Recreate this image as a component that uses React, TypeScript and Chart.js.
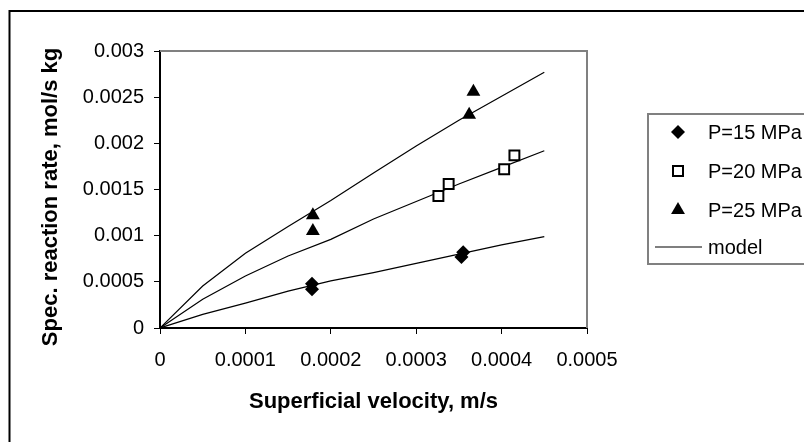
import React, { useEffect, useRef } from "react";
import { Chart, registerables } from "chart.js";

Chart.register(...registerables);

const xTickLabels = ["0", "0.0001", "0.0002", "0.0003", "0.0004", "0.0005"];
const yTickLabels = ["0", "0.0005", "0.001", "0.0015", "0.002", "0.0025", "0.003"];

const p15X = [0.000178, 0.000178, 0.000353, 0.000355];
const p15Y = [0.00042, 0.00048, 0.00077, 0.00082];
const p20X = [0.000326, 0.000338, 0.000403, 0.000415];
const p20Y = [0.00143, 0.00156, 0.00172, 0.00187];
const p25X = [0.000179, 0.000179, 0.000362, 0.000367];
const p25Y = [0.00105, 0.00122, 0.00231, 0.00256];

const modelX = [0, 0.00005, 0.0001, 0.00015, 0.0002, 0.00025, 0.0003, 0.00035, 0.0004, 0.00045];
const model15 = [0, 0.000148, 0.00027, 0.0004, 0.00051, 0.0006, 0.0007, 0.0008, 0.0009, 0.00099];
const model20 = [0, 0.000311, 0.000563, 0.00078, 0.00096, 0.00118, 0.00137, 0.00156, 0.00174, 0.00192];
const model25 = [0, 0.000455, 0.00081, 0.0011, 0.00138, 0.00168, 0.00197, 0.00225, 0.00251, 0.00277];

const legendLabels = ["P=15 MPa", "P=20 MPa", "P=25 MPa", "model"];
const xTitle = "Superficial velocity, m/s";
const yTitle = "Spec. reaction rate, mol/s kg";

const FONT = "'Liberation Sans', Arial, sans-serif";

const zip = (xs: number[], ys: number[]) => xs.map((x, i) => ({ x, y: ys[i] }));

function drawMarker(ctx: CanvasRenderingContext2D, kind: string, x: number, y: number) {
  ctx.save();
  ctx.beginPath();
  if (kind === "diamond") {
    const r = 7;
    ctx.moveTo(x, y - r);
    ctx.lineTo(x + r, y);
    ctx.lineTo(x, y + r);
    ctx.lineTo(x - r, y);
    ctx.closePath();
    ctx.fillStyle = "#000";
    ctx.fill();
  } else if (kind === "square") {
    const s = 5;
    ctx.rect(x - s, y - s, 2 * s, 2 * s);
    ctx.fillStyle = "#fff";
    ctx.fill();
    ctx.lineWidth = 2;
    ctx.strokeStyle = "#000";
    ctx.stroke();
  } else if (kind === "triangle") {
    const r = 8;
    ctx.moveTo(x, y - r);
    ctx.lineTo(x + r * 0.866, y + r * 0.5);
    ctx.lineTo(x - r * 0.866, y + r * 0.5);
    ctx.closePath();
    ctx.fillStyle = "#000";
    ctx.fill();
  }
  ctx.restore();
}

const decorPlugin = {
  id: "decor",
  afterDraw(chart: any) {
    const ctx: CanvasRenderingContext2D = chart.ctx;
    const a = chart.chartArea;
    ctx.save();
    // outer chart border
    ctx.strokeStyle = "#000";
    ctx.lineWidth = 2;
    ctx.strokeRect(9.5, 11, 810, 450);
    // plot area top/right border
    ctx.strokeStyle = "#808080";
    ctx.lineWidth = 2;
    ctx.beginPath();
    ctx.moveTo(a.left, a.top);
    ctx.lineTo(a.right, a.top);
    ctx.lineTo(a.right, a.bottom);
    ctx.stroke();
    // axis titles
    ctx.fillStyle = "#000";
    ctx.font = `bold 22px ${FONT}`;
    ctx.textAlign = "center";
    ctx.textBaseline = "middle";
    ctx.fillText(xTitle, (a.left + a.right) / 2, 402);
    ctx.save();
    ctx.translate(51, 197);
    ctx.rotate(-Math.PI / 2);
    ctx.fillText(yTitle, 0, 0);
    ctx.restore();
    // legend
    const lx = 648, ly = 114, lw = 200, lh = 150;
    ctx.strokeStyle = "#808080";
    ctx.lineWidth = 2;
    ctx.strokeRect(lx, ly, lw, lh);
    const rows = [132, 171, 210, 247];
    const kinds = ["diamond", "square", "triangle", "line"];
    ctx.font = `20px ${FONT}`;
    ctx.textAlign = "left";
    ctx.textBaseline = "middle";
    rows.forEach((ry, i) => {
      if (kinds[i] === "line") {
        ctx.strokeStyle = "#000";
        ctx.lineWidth = 1.2;
        ctx.beginPath();
        ctx.moveTo(655, ry);
        ctx.lineTo(702, ry);
        ctx.stroke();
      } else {
        drawMarker(ctx, kinds[i], 678, ry);
      }
      ctx.fillStyle = "#000";
      ctx.fillText(legendLabels[i], 708, ry + 1);
    });
    ctx.restore();
  },
};

export default function App() {
  const ref = useRef<HTMLCanvasElement | null>(null);
  useEffect(() => {
    if (!ref.current) return;
    const lineDs = (ys: number[]) => ({
      type: "line" as const,
      data: zip(modelX, ys),
      borderColor: "#000",
      borderWidth: 1.2,
      pointRadius: 0,
      showLine: true,
      tension: 0,
      fill: false,
    });
    const chart = new Chart(ref.current, {
      type: "scatter",
      data: {
        datasets: [
          {
            label: legendLabels[0],
            data: zip(p15X, p15Y),
            pointStyle: "rectRot",
            pointRadius: 7,
            backgroundColor: "#000",
            borderColor: "#000",
            borderWidth: 0,
          },
          {
            label: legendLabels[1],
            data: zip(p20X, p20Y),
            pointStyle: "rect",
            pointRadius: 7,
            backgroundColor: "#fff",
            borderColor: "#000",
            borderWidth: 2,
          },
          {
            label: legendLabels[2],
            data: zip(p25X, p25Y),
            pointStyle: "triangle",
            pointRadius: 8,
            backgroundColor: "#000",
            borderColor: "#000",
            borderWidth: 0,
          },
          { label: legendLabels[3], ...lineDs(model15) } as any,
          { label: legendLabels[3] + "20", ...lineDs(model20) } as any,
          { label: legendLabels[3] + "25", ...lineDs(model25) } as any,
        ],
      },
      options: {
        responsive: false,
        devicePixelRatio: 1,
        animation: false,
        layout: { padding: { left: 0, top: 51, right: 217, bottom: 0 } },
        plugins: { legend: { display: false }, tooltip: { enabled: false } },
        scales: {
          x: {
            type: "linear",
            min: 0,
            max: 0.0005,
            afterFit: (s: any) => {
              s.height = 114;
            },
            ticks: {
              stepSize: 0.0001,
              padding: 14,
              color: "#000",
              font: { family: FONT, size: 20 },
              maxRotation: 0,
              autoSkip: false,
              callback: (_v: any, i: number) => xTickLabels[i],
            },
            grid: { drawOnChartArea: false, drawTicks: true, tickLength: 6, color: "#000", lineWidth: 1 },
            border: { display: true, color: "#000", width: 2 },
          },
          y: {
            type: "linear",
            min: 0,
            max: 0.003,
            afterFit: (s: any) => {
              s.width = 160;
            },
            ticks: {
              stepSize: 0.0005,
              padding: 10,
              color: "#000",
              font: { family: FONT, size: 20 },
              autoSkip: false,
              callback: (_v: any, i: number) => yTickLabels[i],
            },
            grid: { drawOnChartArea: false, drawTicks: true, tickLength: 6, color: "#000", lineWidth: 1 },
            border: { display: true, color: "#000", width: 2 },
          },
        },
      },
      plugins: [decorPlugin],
    });
    return () => chart.destroy();
  }, []);
  return (
    <div style={{ position: "absolute", left: 0, top: 0, width: 804, height: 442, background: "#fff" }}>
      <canvas ref={ref} width={804} height={442} style={{ display: "block", width: 804, height: 442 }} />
    </div>
  );
}
